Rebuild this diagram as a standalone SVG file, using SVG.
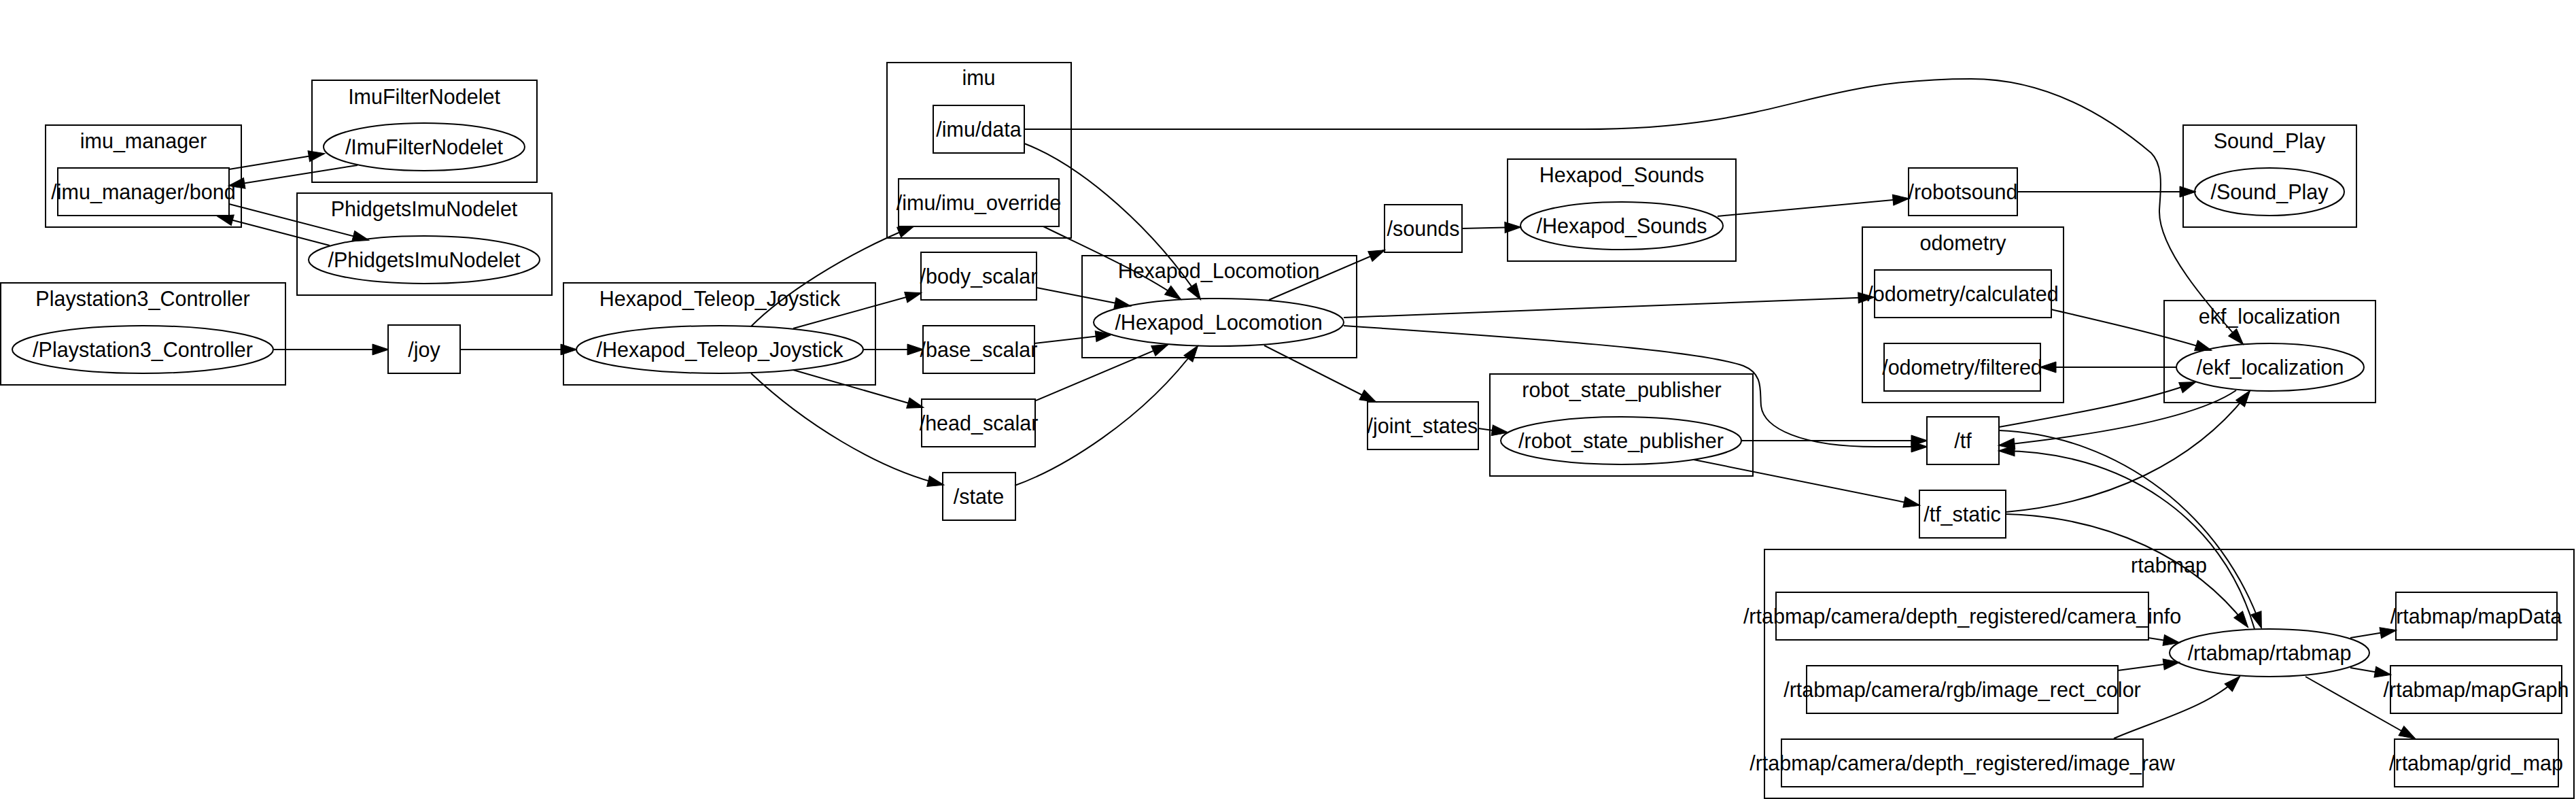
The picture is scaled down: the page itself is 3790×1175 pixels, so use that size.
<svg xmlns="http://www.w3.org/2000/svg" width="3790" height="1175" viewBox="0 0 3790 1175">
<style>
.c{fill:none;stroke:#000;stroke-width:2}
.n{fill:none;stroke:#000;stroke-width:2}
text{font-family:"Liberation Sans",Arial,sans-serif;font-size:30.5px;text-anchor:middle;fill:#000}
.e{fill:none;stroke:#000;stroke-width:2;marker-end:url(#a)}
</style>
<defs>
<marker id="a" markerUnits="userSpaceOnUse" markerWidth="24" markerHeight="16" refX="23" refY="8" orient="auto" overflow="visible">
<path d="M0,0 L24,8 L0,16 z" fill="#000" stroke="#000" stroke-width="1"/>
</marker>
</defs>
<rect x="0" y="0" width="3790" height="1175" fill="#fff"/>

<g id="cluster_imu_manager"><rect class="c" x="67" y="184" width="288" height="150"/><text x="211" y="218">imu_manager</text></g>
<g id="topic_imu_manager_bond"><rect class="n" x="85" y="247" width="252" height="70"/><text x="211" y="293">/imu_manager/bond</text></g>

<g id="cluster_ImuFilterNodelet"><rect class="c" x="459" y="118" width="331" height="150"/><text x="624" y="153">ImuFilterNodelet</text></g>
<g id="node_ImuFilterNodelet"><ellipse class="n" cx="624" cy="216" rx="148" ry="35"/><text x="624" y="227">/ImuFilterNodelet</text></g>

<g id="cluster_PhidgetsImuNodelet"><rect class="c" x="437" y="284" width="375" height="150"/><text x="624" y="318">PhidgetsImuNodelet</text></g>
<g id="node_PhidgetsImuNodelet"><ellipse class="n" cx="624" cy="382" rx="170" ry="35"/><text x="624" y="393">/PhidgetsImuNodelet</text></g>

<g id="cluster_Playstation3_Controller"><rect class="c" x="1" y="416" width="419" height="150"/><text x="210" y="450">Playstation3_Controller</text></g>
<g id="node_Playstation3_Controller"><ellipse class="n" cx="210" cy="514" rx="192" ry="35"/><text x="210" y="525">/Playstation3_Controller</text></g>

<g id="topic_joy"><rect class="n" x="571" y="478" width="106" height="71"/><text x="624" y="525">/joy</text></g>

<g id="cluster_Hexapod_Teleop_Joystick"><rect class="c" x="829" y="416" width="459" height="150"/><text x="1059" y="450">Hexapod_Teleop_Joystick</text></g>
<g id="node_Hexapod_Teleop_Joystick"><ellipse class="n" cx="1059" cy="514" rx="211" ry="35"/><text x="1059" y="525">/Hexapod_Teleop_Joystick</text></g>

<g id="cluster_imu"><rect class="c" x="1305" y="92" width="271" height="258"/><text x="1440" y="125">imu</text></g>
<g id="topic_imu_data"><rect class="n" x="1373" y="155" width="134" height="70"/><text x="1440" y="201">/imu/data</text></g>
<g id="topic_imu_imu_override"><rect class="n" x="1322" y="263" width="236" height="70"/><text x="1440" y="309">/imu/imu_override</text></g>

<g id="topic_body_scalar"><rect class="n" x="1355" y="371" width="170" height="70"/><text x="1440" y="417">/body_scalar</text></g>
<g id="topic_base_scalar"><rect class="n" x="1358" y="479" width="164" height="70"/><text x="1440" y="525">/base_scalar</text></g>
<g id="topic_head_scalar"><rect class="n" x="1356" y="587" width="167" height="70"/><text x="1440" y="633">/head_scalar</text></g>
<g id="topic_state"><rect class="n" x="1387" y="695" width="107" height="70"/><text x="1440" y="741">/state</text></g>

<g id="cluster_Hexapod_Locomotion"><rect class="c" x="1592" y="376" width="404" height="150"/><text x="1793" y="409">Hexapod_Locomotion</text></g>
<g id="node_Hexapod_Locomotion"><ellipse class="n" cx="1793" cy="474" rx="184" ry="35"/><text x="1793" y="485">/Hexapod_Locomotion</text></g>

<g id="topic_sounds"><rect class="n" x="2037" y="301" width="114" height="70"/><text x="2094" y="347">/sounds</text></g>

<g id="cluster_Hexapod_Sounds"><rect class="c" x="2218" y="234" width="336" height="150"/><text x="2386" y="268">Hexapod_Sounds</text></g>
<g id="node_Hexapod_Sounds"><ellipse class="n" cx="2386" cy="332" rx="149" ry="35"/><text x="2386" y="343">/Hexapod_Sounds</text></g>

<g id="topic_robotsound"><rect class="n" x="2808" y="247" width="160" height="70"/><text x="2888" y="293">/robotsound</text></g>

<g id="cluster_Sound_Play"><rect class="c" x="3212" y="184" width="255" height="150"/><text x="3339" y="218">Sound_Play</text></g>
<g id="node_Sound_Play"><ellipse class="n" cx="3339" cy="282" rx="110" ry="35"/><text x="3339" y="293">/Sound_Play</text></g>

<g id="cluster_odometry"><rect class="c" x="2740" y="334" width="296" height="258"/><text x="2888" y="368">odometry</text></g>
<g id="topic_odometry_calculated"><rect class="n" x="2758" y="397" width="260" height="70"/><text x="2888" y="443">/odometry/calculated</text></g>
<g id="topic_odometry_filtered"><rect class="n" x="2772" y="505" width="230" height="70"/><text x="2887" y="551">/odometry/filtered</text></g>

<g id="cluster_ekf_localization"><rect class="c" x="3184" y="442" width="311" height="150"/><text x="3339" y="476">ekf_localization</text></g>
<g id="node_ekf_localization"><ellipse class="n" cx="3340" cy="540" rx="138" ry="35"/><text x="3340" y="551">/ekf_localization</text></g>

<g id="topic_joint_states"><rect class="n" x="2012" y="591" width="163" height="70"/><text x="2093" y="637">/joint_states</text></g>

<g id="cluster_robot_state_publisher"><rect class="c" x="2192" y="550" width="387" height="150"/><text x="2386" y="584">robot_state_publisher</text></g>
<g id="node_robot_state_publisher"><ellipse class="n" cx="2385" cy="648" rx="177" ry="35"/><text x="2385" y="659">/robot_state_publisher</text></g>

<g id="topic_tf"><rect class="n" x="2835" y="613" width="106" height="70"/><text x="2888" y="659">/tf</text></g>
<g id="topic_tf_static"><rect class="n" x="2824" y="721" width="127" height="70"/><text x="2887" y="767">/tf_static</text></g>

<g id="cluster_rtabmap"><rect class="c" x="2596" y="808" width="1191" height="366"/><text x="3191" y="842">rtabmap</text></g>
<g id="topic_camera_info"><rect class="n" x="2613" y="871" width="548" height="70"/><text x="2887" y="917">/rtabmap/camera/depth_registered/camera_info</text></g>
<g id="topic_image_rect_color"><rect class="n" x="2658" y="979" width="458" height="70"/><text x="2887" y="1025">/rtabmap/camera/rgb/image_rect_color</text></g>
<g id="topic_image_raw"><rect class="n" x="2621" y="1087" width="532" height="70"/><text x="2887" y="1133">/rtabmap/camera/depth_registered/image_raw</text></g>
<g id="node_rtabmap"><ellipse class="n" cx="3339" cy="960" rx="147" ry="35"/><text x="3339" y="971">/rtabmap/rtabmap</text></g>
<g id="topic_mapData"><rect class="n" x="3525" y="871" width="237" height="70"/><text x="3643" y="917">/rtabmap/mapData</text></g>
<g id="topic_mapGraph"><rect class="n" x="3517" y="979" width="252" height="70"/><text x="3643" y="1025">/rtabmap/mapGraph</text></g>
<g id="topic_grid_map"><rect class="n" x="3523" y="1087" width="241" height="70"/><text x="3643" y="1133">/rtabmap/grid_map</text></g>

<g id="edges">
<path class="e" d="M337,249 L477,226"/>
<path class="e" d="M526,243 L337,273"/>
<path class="e" d="M337,300 L542,353"/>
<path class="e" d="M485,361 L320,318"/>
<path class="e" d="M403,514 L571,514"/>
<path class="e" d="M677,514 L848,514"/>
<path class="e" d="M1105,480 C1150,435 1240,375 1344,333"/>
<path class="e" d="M1167,483 L1355,431"/>
<path class="e" d="M1270,514 L1358,514"/>
<path class="e" d="M1167,544 L1358,599"/>
<path class="e" d="M1105,549 C1180,620 1290,690 1388,713"/>
<path class="e" d="M1507,211 C1595,245 1700,340 1766,440"/>
<path class="e" d="M1535,333 C1600,365 1680,400 1737,440"/>
<path class="e" d="M1525,423 L1663,450"/>
<path class="e" d="M1522,505 L1635,492"/>
<path class="e" d="M1524,589 L1718,507"/>
<path class="e" d="M1493,714 C1560,690 1680,620 1762,509"/>
<path class="e" d="M1507,190 L2330,190 C2620,190 2660,116 2900,116 C3010,116 3100,170 3165,225 C3185,245 3178,285 3177,310 C3176,365 3245,445 3300,506"/>
<path class="e" d="M1867,441 L2037,368"/>
<path class="e" d="M2151,336 L2237,334"/>
<path class="e" d="M2527,318 L2808,292"/>
<path class="e" d="M2968,282 L3230,282"/>
<path class="e" d="M1977,467 L2757,437"/>
<path class="e" d="M1977,479 C2250,497 2500,515 2565,538 C2595,550 2589,575 2591,597 C2595,630 2650,657 2760,657 L2835,657"/>
<path class="e" d="M1860,508 L2024,591"/>
<path class="e" d="M2175,630 L2218,636"/>
<path class="e" d="M2562,648 L2835,648"/>
<path class="e" d="M2492,676 L2824,743"/>
<path class="e" d="M3018,455 C3090,472 3180,492 3253,515"/>
<path class="e" d="M3202,540 L3002,540"/>
<path class="e" d="M2941,628 C3040,610 3150,592 3230,562"/>
<path class="e" d="M3290,574 C3230,615 3080,640 2941,655"/>
<path class="e" d="M2951,753 C3100,740 3230,680 3310,575"/>
<path class="e" d="M2941,633 C3120,640 3270,760 3327,923"/>
<path class="e" d="M3317,925 C3270,760 3120,662 2941,663"/>
<path class="e" d="M2951,756 C3100,760 3230,820 3307,922"/>
<path class="e" d="M3161,938 L3206,945"/>
<path class="e" d="M3116,986 L3206,974"/>
<path class="e" d="M3110,1086 C3170,1060 3250,1040 3295,995"/>
<path class="e" d="M3458,938 L3525,927"/>
<path class="e" d="M3458,982 L3517,992"/>
<path class="e" d="M3392,995 L3553,1086"/>
</g>
</svg>
